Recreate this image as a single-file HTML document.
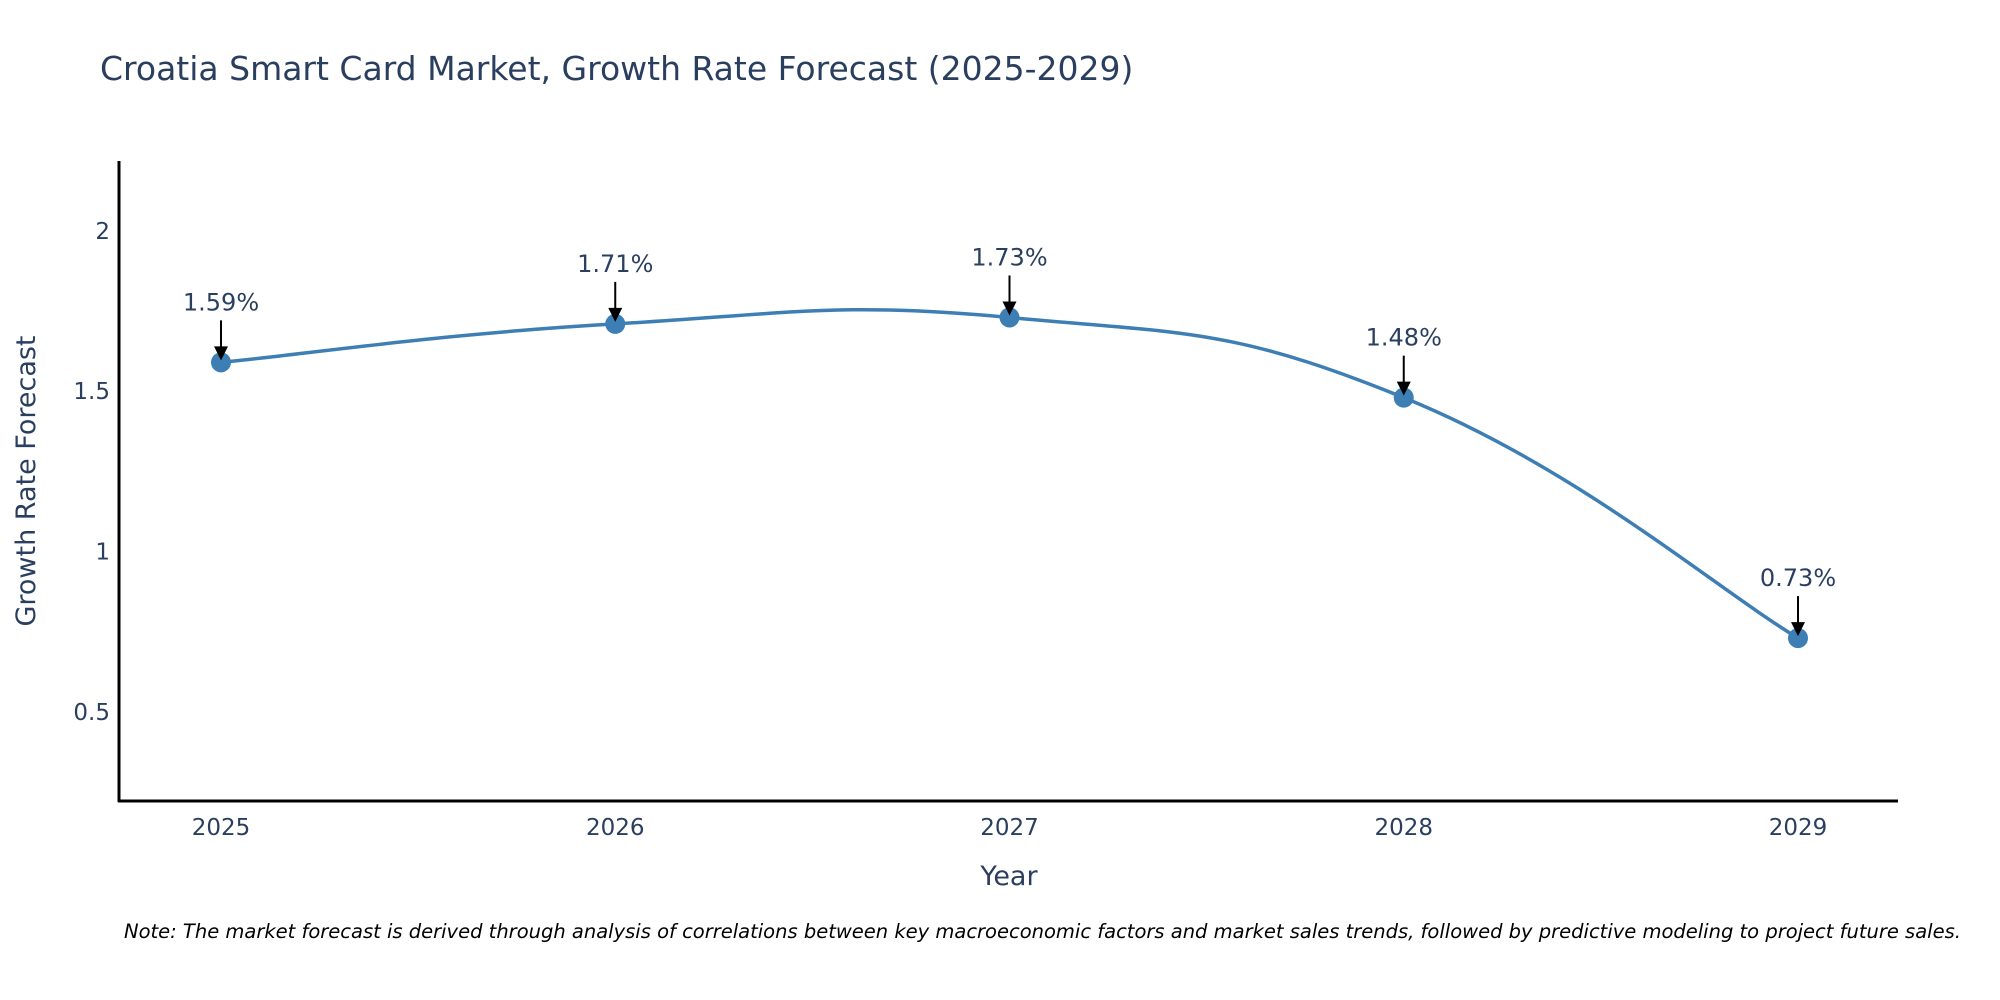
<!DOCTYPE html>
<html><head><meta charset="utf-8">
<style>
html,body{margin:0;padding:0;background:#fff;}
svg{display:block;font-family:"DejaVu Sans","Liberation Sans",sans-serif;}
</style></head>
<body>
<svg id="chart" width="2000" height="1000" viewBox="0 0 2000 1000" xmlns="http://www.w3.org/2000/svg">
<text x="100" y="80" font-size="33" fill="#2a3f5f">Croatia Smart Card Market, Growth Rate Forecast (2025-2029)</text>
<g id="yticks"></g>
<g id="xticks"></g>
<line x1="119" y1="161" x2="119" y2="802" stroke="#000" stroke-width="3"/>
<line x1="118" y1="801" x2="1898" y2="801" stroke="#000" stroke-width="3"/>
<g id="series"></g>
<g id="annots"></g>
<text x="1009" y="885" font-size="27" fill="#2a3f5f" text-anchor="middle">Year</text>
<text x="0" y="0" font-size="27" fill="#2a3f5f" text-anchor="middle" transform="translate(35,481) rotate(-90)">Growth Rate Forecast</text>
<text x="124" y="938" font-size="19.5" font-style="italic" fill="#000">Note: The market forecast is derived through analysis of correlations between key macroeconomic factors and market sales trends, followed by predictive modeling to project future sales.</text>
</svg>
<script>
const years = [2025, 2026, 2027, 2028, 2029];
const growth = [1.59, 1.71, 1.73, 1.48, 0.73];
const labels = ["1.59%", "1.71%", "1.73%", "1.48%", "0.73%"];
const yTickVals = [0.5, 1, 1.5, 2];
const yTickLabels = ["0.5", "1", "1.5", "2"];

const NS = "http://www.w3.org/2000/svg";
const X0 = 221, X1 = 1798, Y0 = 161, Y1 = 801, YMIN = 0.222, YMAX = 2.218;
function xs(i){ return X0 + (X1 - X0) * i / (years.length - 1); }
function ys(v){ return Y1 - (v - YMIN) / (YMAX - YMIN) * (Y1 - Y0); }
function mk(tag, attrs, parent){ const e = document.createElementNS(NS, tag); for (const k in attrs) e.setAttribute(k, attrs[k]); parent.appendChild(e); return e; }

const yt = document.getElementById('yticks');
yTickVals.forEach((v, i) => {
  const t = mk('text', {x: 110, y: ys(v) + 8, 'font-size': 23, fill: '#2a3f5f', 'text-anchor': 'end'}, yt);
  
  
  t.textContent = yTickLabels[i];
});
const xt = document.getElementById('xticks');
years.forEach((y, i) => {
  const t = mk('text', {x: xs(i), y: 835, 'font-size': 23, fill: '#2a3f5f', 'text-anchor': 'middle'}, xt);
  
  
  t.textContent = String(y);
});

const pts = growth.map((v, i) => [xs(i), ys(v)]);
let d = 'M' + pts[0][0] + ',' + pts[0][1];
const s = 0.22;
for (let i = 0; i < pts.length - 1; i++) {
  const p0 = pts[Math.max(0, i - 1)], p1 = pts[i], p2 = pts[i + 1], p3 = pts[Math.min(pts.length - 1, i + 2)];
  const c1x = p1[0] + (p2[0] - p0[0]) * s, c1y = p1[1] + (p2[1] - p0[1]) * s;
  const c2x = p2[0] - (p3[0] - p1[0]) * s, c2y = p2[1] - (p3[1] - p1[1]) * s;
  d += ' C' + c1x + ',' + c1y + ' ' + c2x + ',' + c2y + ' ' + p2[0] + ',' + p2[1];
}
const ser = document.getElementById('series');
const line = mk('path', {d: d, fill: 'none', stroke: '#3d7fb5', 'stroke-width': 3.5}, ser);


pts.forEach(p => {
  const c = mk('circle', {cx: p[0], cy: p[1], r: 10, fill: '#3d7fb5'}, ser);
  
  
});

const an = document.getElementById('annots');
pts.forEach((p, i) => {
  const l = mk('line', {x1: p[0], y1: p[1] - 42, x2: p[0], y2: p[1] - 14, stroke: '#000', 'stroke-width': 2}, an);
  
  
  const h = mk('polygon', {points: (p[0] - 7) + ',' + (p[1] - 16) + ' ' + (p[0] + 7) + ',' + (p[1] - 16) + ' ' + p[0] + ',' + (p[1] - 2), fill: '#000'}, an);
  
  
  const t = mk('text', {x: p[0], y: p[1] - 52, 'font-size': 24, fill: '#2a3f5f', 'text-anchor': 'middle'}, an);
  
  
  t.textContent = labels[i];
});
</script>
</body></html>
